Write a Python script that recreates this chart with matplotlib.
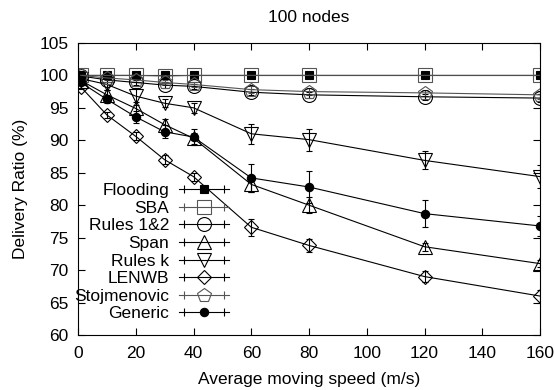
import matplotlib
matplotlib.use("Agg")
import matplotlib.pyplot as plt
from matplotlib.lines import Line2D
from matplotlib.legend_handler import HandlerLine2D

plt.rcParams['font.family'] = ['Liberation Sans', 'DejaVu Sans']

# average moving speed (m/s)
speed = [1, 10, 20, 30, 40, 60, 80, 120, 160]

# delivery ratio (%) and error bars per protocol
flooding = [100.0, 100.0, 100.0, 100.0, 100.0, 100.0, 100.0, 100.0, 100.0]
flooding_err = [0.1, 0.1, 0.1, 0.1, 0.1, 0.1, 0.1, 0.1, 0.1]
sba = [100.0, 100.0, 100.0, 99.9, 100.0, 100.0, 100.0, 100.0, 100.0]
sba_err = [0.1, 0.1, 0.1, 0.1, 0.1, 0.1, 0.1, 0.1, 0.1]
rules12 = [99.9, 99.3, 98.9, 98.5, 98.3, 97.4, 97.0, 96.7, 96.5]
rules12_err = [0.2, 0.3, 0.4, 0.4, 0.4, 0.5, 0.5, 0.5, 0.6]
span = [99.2, 97.0, 94.9, 92.4, 90.3, 83.2, 80.0, 73.6, 71.0]
span_err = [0.4, 0.8, 1.0, 0.9, 0.8, 1.2, 1.2, 0.6, 0.5]
rules_k = [99.5, 98.6, 96.8, 95.7, 95.0, 91.0, 90.1, 86.9, 84.4]
rules_k_err = [0.3, 0.8, 1.3, 0.6, 0.8, 1.5, 1.7, 1.4, 1.8]
lenwb = [98.2, 93.9, 90.6, 87.0, 84.4, 76.6, 73.8, 69.0, 66.0]
lenwb_err = [0.3, 0.5, 0.6, 0.7, 0.6, 1.3, 1.0, 0.8, 1.0]
stojmenovic = [100.0, 99.6, 99.3, 98.9, 98.6, 97.8, 97.5, 97.3, 97.0]
stojmenovic_err = [0.2, 0.3, 0.4, 0.4, 0.4, 0.5, 0.5, 0.5, 0.6]
generic = [98.9, 96.3, 93.6, 91.3, 90.5, 84.2, 82.8, 78.7, 76.8]
generic_err = [0.4, 0.6, 0.9, 1.0, 1.3, 2.2, 2.4, 2.1, 1.6]

# name, values, errors, marker, marker size, face, colour
series = [
    ("Flooding", flooding, flooding_err, "s", 6, "black", "black"),
    ("SBA", sba, sba_err, "s", 10, "none", "#555555"),
    ("Rules 1&2", rules12, rules12_err, "o", 10, "none", "black"),
    ("Span", span, span_err, "^", 10, "none", "black"),
    ("Rules k", rules_k, rules_k_err, "v", 10, "none", "black"),
    ("LENWB", lenwb, lenwb_err, "D", 7.5, "none", "black"),
    ("Stojmenovic", stojmenovic, stojmenovic_err, "p", 10, "none", "#555555"),
    ("Generic", generic, generic_err, "o", 6, "black", "black"),
]

fs = 12.5
fig = plt.figure(figsize=(5.54, 3.90), dpi=100)
ax = fig.add_axes([0.1408, 0.141, 0.834, 0.749])

handles = []
hmap = {}
for name, vals, err, mk, ms, face, col in series:
    ax.errorbar(speed, vals, yerr=err, color=col, lw=0.8, elinewidth=0.8,
                capsize=2.5, capthick=0.8, marker=mk, ms=ms,
                mfc=face, mec=col, mew=0.8)
    # legend sample: line with marker plus end caps, gnuplot style
    main = Line2D([], [], color=col, lw=0.8, marker=mk, ms=ms, mfc=face,
                  mec=col, mew=0.8)
    caps = Line2D([], [], color=col, ls="none", marker="|", ms=6, mew=0.8)
    hmap[caps] = HandlerLine2D(numpoints=2)
    handles.append((caps, main))

ax.legend(handles, [s[0] for s in series], handler_map=hmap,
          loc="upper right", bbox_to_anchor=(0.327, 0.52), frameon=False,
          markerfirst=False, fontsize=fs, handlelength=2.9,
          handletextpad=0.55, labelspacing=0.14, borderpad=0,
          borderaxespad=0)

ax.set_xlim(0, 160)
ax.set_ylim(60, 105)
ax.set_xticks(range(0, 161, 20))
ax.set_yticks(range(60, 106, 5))
ax.tick_params(direction="in", top=True, right=True, length=5, width=0.8,
               labelsize=fs)
ax.tick_params(axis="y", pad=7)
ax.tick_params(axis="x", pad=8)
for sp in ax.spines.values():
    sp.set_linewidth(0.8)

ax.set_xlabel("Average moving speed (m/s)", fontsize=fs)
ax.set_ylabel("Delivery Ratio (%)", fontsize=fs)
ax.xaxis.set_label_coords(0.5, -0.125)
ax.yaxis.set_label_coords(-0.108, 0.5)
ax.set_title("100 nodes", fontsize=fs, pad=15)

fig.savefig("out.png", dpi=100)
